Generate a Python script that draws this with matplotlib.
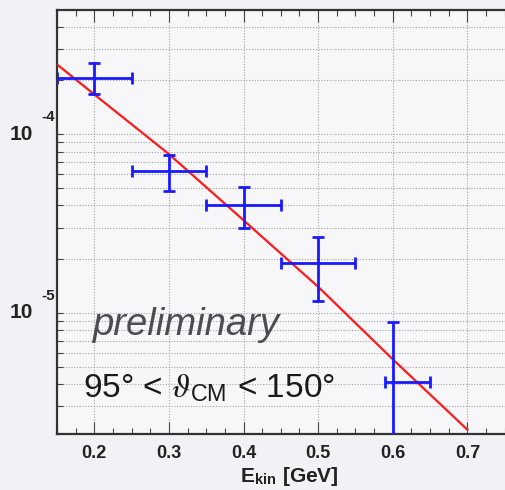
import matplotlib
matplotlib.use("Agg")
import matplotlib.pyplot as plt
from matplotlib.ticker import FixedLocator, NullFormatter, LogLocator
from matplotlib import transforms

# data
e_kin = [0.2, 0.3, 0.4, 0.5, 0.6]
xsec = [2.06e-4, 6.2e-5, 4.0e-5, 1.91e-5, 4.1e-6]
err_lo = [0.39e-4, 1.4e-5, 1.03e-5, 0.75e-5, 4.0e-6]
err_hi = [0.43e-4, 1.5e-5, 1.06e-5, 0.74e-5, 4.8e-6]
xerr_lo = [0.05, 0.05, 0.05, 0.05, 0.01]
xerr_hi = [0.05, 0.05, 0.05, 0.05, 0.05]

fit_x = [0.15, 0.2, 0.3, 0.4, 0.5, 0.6, 0.7]
fit_y = [2.46e-4, 1.67e-4, 7.74e-5, 3.3e-5, 1.40e-5, 5.5e-6, 2.22e-6]

x_ticks = [0.2, 0.3, 0.4, 0.5, 0.6, 0.7]
x_ticklabels = ["0.2", "0.3", "0.4", "0.5", "0.6", "0.7"]
y_major = [1e-5, 1e-4]
y_exps = ["-5", "-4"]

plt.rcParams["font.family"] = ["Liberation Sans", "DejaVu Sans"]
plt.rcParams["mathtext.fontset"] = "custom"
plt.rcParams["mathtext.rm"] = "Liberation Sans"
plt.rcParams["mathtext.bf"] = "Liberation Sans:bold"
plt.rcParams["mathtext.it"] = "STIXGeneral:italic"

W, H = 505, 490
fig = plt.figure(figsize=(W / 100, H / 100), dpi=100)
fig.patch.set_facecolor("#f2f2f6")
ax = fig.add_axes([57 / W, (H - 434) / H, 485 / W, 424 / H])
ax.set_facecolor("#f7f7fa")

ax.set_yscale("log")
ax.set_xlim(0.15, 0.8)
ax.set_ylim(2.1e-6, 4.96e-4)

# grid
grid_kw = dict(color="#a5a5a8", lw=0.8, ls=(0, (1, 1.5)))
ax.set_xticks(x_ticks)
ax.set_xticklabels(x_ticklabels, fontsize=13, fontweight="bold", color="#222222")
ax.xaxis.set_minor_locator(FixedLocator([0.15 + 0.025 * i for i in range(27)]))
ax.yaxis.set_major_locator(FixedLocator(y_major))
ax.yaxis.set_minor_locator(LogLocator(base=10, subs=range(2, 10)))
ax.yaxis.set_major_formatter(NullFormatter())
ax.yaxis.set_minor_formatter(NullFormatter())
ax.grid(True, which="major", axis="x", **grid_kw)
ax.grid(True, which="both", axis="y", **grid_kw)
ax.set_axisbelow(True)

ax.tick_params(which="both", direction="in", top=True, right=False,
               color="#444444", width=0.8)
ax.tick_params(which="major", length=8.5, pad=8)
ax.tick_params(which="minor", length=4)
ax.tick_params(axis="y", which="both", length=4.5)

for side in ["left", "bottom", "top"]:
    ax.spines[side].set_color("#333333")
    ax.spines[side].set_linewidth(1.6)
ax.spines["right"].set_visible(False)

# y tick labels in ROOT style
trans = transforms.blended_transform_factory(fig.transFigure, ax.transData)
for yv, ex in zip(y_major, y_exps):
    ax.text(33 / W, yv, "10", transform=trans, ha="right", va="center",
            fontsize=15, fontweight="bold", color="#222222")
    t2 = transforms.offset_copy(trans, fig=fig, y=17, units="dots")
    ax.text(41 / W, yv, ex, transform=t2, ha="left", va="center",
            fontsize=11, fontweight="bold", color="#222222")

# fit curve and data
ax.plot(fit_x, fit_y, color="#ff1a1a", lw=1.6, zorder=3)
ax.errorbar(e_kin, xsec, yerr=[err_lo, err_hi], xerr=[xerr_lo, xerr_hi],
            fmt="none", ecolor="#1a1aff", elinewidth=2.0, capsize=4,
            capthick=2.0, zorder=4)

ax.set_xlabel(r"E$_{\mathbf{kin}}$ [GeV]", fontsize=15, fontweight="bold",
              color="#222222")
ax.xaxis.set_label_coords(0.478, -0.072)

ax.text(0.074, 0.2335, "preliminary", transform=ax.transAxes, fontsize=27.5,
        style="italic", color="#4c4c52", ha="left", va="baseline")
ax.text(0.053, 0.087, r"95° < $\vartheta_{\mathrm{CM}}$ < 150°",
        transform=ax.transAxes, fontsize=24, color="#1a1a1a",
        ha="left", va="baseline")

fig.savefig("out.png", dpi=100, facecolor=fig.get_facecolor())
